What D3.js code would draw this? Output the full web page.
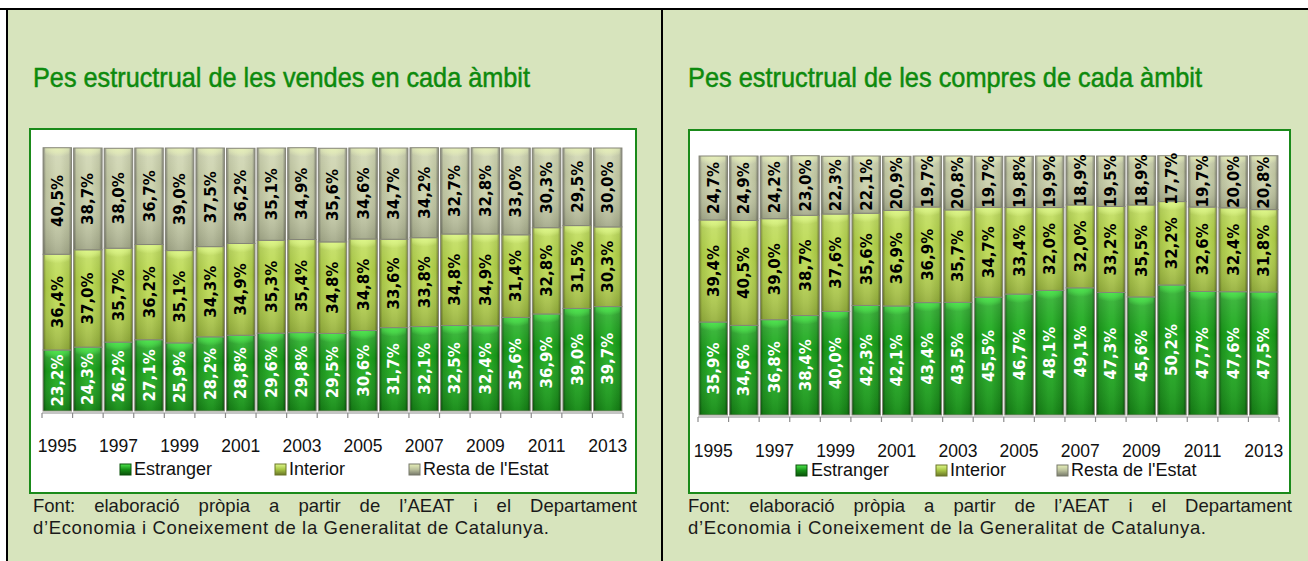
<!DOCTYPE html>
<html><head><meta charset="utf-8">
<script src="https://cdn.jsdelivr.net/npm/d3@7"></script>
<style>
html,body{margin:0;padding:0;background:#fff;}
svg{display:block;}
</style></head><body>
<svg id="c" width="1308" height="561"></svg>
<script>
// ---------- DATA ----------
const years = [1995,1996,1997,1998,1999,2000,2001,2002,2003,2004,2005,2006,2007,2008,2009,2010,2011,2012,2013];
const seriesNames = ["Estranger","Interior","Resta de l'Estat"];
const seriesKeys = ["estranger","interior","resta"];

const vendesEstranger = [23.2,24.3,26.2,27.1,25.9,28.2,28.8,29.6,29.8,29.5,30.6,31.7,32.1,32.5,32.4,35.6,36.9,39.0,39.7];
const vendesInterior  = [36.4,37.0,35.7,36.2,35.1,34.3,34.9,35.3,35.4,34.8,34.8,33.6,33.8,34.8,34.9,31.4,32.8,31.5,30.3];
const vendesResta     = [40.5,38.7,38.0,36.7,39.0,37.5,36.2,35.1,34.9,35.6,34.6,34.7,34.2,32.7,32.8,33.0,30.3,29.5,30.0];

const compresEstranger = [35.9,34.6,36.8,38.4,40.0,42.3,42.1,43.4,43.5,45.5,46.7,48.1,49.1,47.3,45.6,50.2,47.7,47.6,47.5];
const compresInterior  = [39.4,40.5,39.0,38.7,37.6,35.6,36.9,36.9,35.7,34.7,33.4,32.0,32.0,33.2,35.5,32.2,32.6,32.4,31.8];
const compresResta     = [24.7,24.9,24.2,23.0,22.3,22.1,20.9,19.7,20.8,19.7,19.8,19.9,18.9,19.5,18.9,17.7,19.7,20.0,20.8];

const titleVendes = "Pes estructrual de les vendes en cada àmbit";
const titleCompres = "Pes estructrual de les compres de cada àmbit";
const sourceLine1 = "Font: elaboració pròpia a partir de l’AEAT i el Departament";
const sourceLine2 = "d’Economia i Coneixement de la Generalitat de Catalunya.";
const yearTickLabels = years.map((y,i)=> i%2===0 ? String(y) : "");

// ---------- STYLE / LAYOUT ----------
const W = 1308, H = 561;
const svg = d3.select("#c");
const defs = svg.append("defs");
const locale = d3.formatLocale({decimal: ",", thousands: ".", grouping:[3], currency:["","€"]});
const fmt = v => locale.format(".1f")(v) + "%";

const pal = {
  estranger: {edge:"#0a520a", mid:"#179017", center:"#24ad24", hl:"#4fe64f", text:"#ffffff"},
  interior:  {edge:"#6a7628", mid:"#a6c443", center:"#bedb58", hl:"#def78a", text:"#000000"},
  resta:     {edge:"#77796a", mid:"#bac09c", center:"#ced4b0", hl:"#e6efb8", text:"#000000"}
};

seriesKeys.forEach(k => {
  const p = pal[k];
  const g = defs.append("linearGradient").attr("id","h-"+k).attr("x1",0).attr("x2",1).attr("y1",0).attr("y2",0);
  [[0,p.edge],[0.1,p.mid],[0.45,p.center],[0.6,p.center],[0.9,p.mid],[1,p.edge]].forEach(s=>
    g.append("stop").attr("offset",s[0]).attr("stop-color",s[1]));
  const r = defs.append("radialGradient").attr("id","hl-"+k).attr("cx",0.5).attr("cy",0).attr("r",0.75)
    .attr("fx",0.5).attr("fy",0);
  r.append("stop").attr("offset",0).attr("stop-color",p.hl).attr("stop-opacity",1);
  r.append("stop").attr("offset",0.55).attr("stop-color",p.hl).attr("stop-opacity",0.6);
  r.append("stop").attr("offset",1).attr("stop-color",p.hl).attr("stop-opacity",0);
  const lg = defs.append("linearGradient").attr("id","lg-"+k).attr("x1",0).attr("x2",0).attr("y1",0).attr("y2",1);
  lg.append("stop").attr("offset",0).attr("stop-color",p.hl);
  lg.append("stop").attr("offset",0.5).attr("stop-color",p.mid);
  lg.append("stop").attr("offset",1).attr("stop-color",p.edge);
});
const vs = defs.append("linearGradient").attr("id","vshade").attr("x1",0).attr("x2",0).attr("y1",0).attr("y2",1);
vs.append("stop").attr("offset",0).attr("stop-color","#fff").attr("stop-opacity",0.15);
vs.append("stop").attr("offset",0.35).attr("stop-color","#fff").attr("stop-opacity",0);
vs.append("stop").attr("offset",1).attr("stop-color","#000").attr("stop-opacity",0.18);

// page frame
svg.append("rect").attr("x",0).attr("y",0).attr("width",W).attr("height",H).attr("fill","#fff");
svg.append("rect").attr("x",7).attr("y",9).attr("width",W-7).attr("height",H-9).attr("fill","#d7e4bd");
svg.append("rect").attr("x",0).attr("y",8).attr("width",W).attr("height",2).attr("fill","#000");
svg.append("rect").attr("x",6).attr("y",8).attr("width",2).attr("height",H-8).attr("fill","#000");
svg.append("rect").attr("x",661).attr("y",8).attr("width",2).attr("height",H-8).attr("fill","#000");

const panels = [
  {title:titleVendes, data:[vendesEstranger,vendesInterior,vendesResta], titleX:33, titleLen:497,
   box:[30,129,606,364], plot:[42,148,623,411], yearY:452, legendY:475,
   markerX:[120,275,409], textX:[134,289,423], srcX0:33, srcX1:637, src2Len:516},
  {title:titleCompres, data:[compresEstranger,compresInterior,compresResta], titleX:688, titleLen:514,
   box:[689,130,601,363], plot:[698,156,1279,415], yearY:457, legendY:476,
   markerX:[796,936,1057], textX:[811,950,1071], srcX0:688, srcX1:1292, src2Len:518}
];

const SANS = "'Liberation Sans',Arial,sans-serif";

panels.forEach(P => {
  const g = svg.append("g");
  // title
  g.append("text").attr("x",P.titleX).attr("y",87).text(P.title)
    .attr("font-family","'Liberation Sans Narrow','Liberation Sans',Arial,sans-serif")
    .attr("font-size",28).attr("fill","#0d8a0d").attr("stroke","#0d8a0d").attr("stroke-width",0.5)
    .attr("textLength",P.titleLen).attr("lengthAdjust","spacingAndGlyphs");
  // box
  g.append("rect").attr("x",P.box[0]).attr("y",P.box[1]).attr("width",P.box[2]).attr("height",P.box[3])
    .attr("fill","#fff").attr("stroke","#1a8a1a").attr("stroke-width",2);

  const rows = years.map((y,i)=>({year:y, estranger:P.data[0][i], interior:P.data[1][i], resta:P.data[2][i]}));
  const stack = d3.stack().keys(seriesKeys)(rows);

  const x = d3.scaleBand().domain(years).range([P.plot[0],P.plot[2]]).paddingInner(0.07).paddingOuter(0.035);
  const y = d3.scaleLinear().domain([0,100]).range([P.plot[3],P.plot[1]]);
  const bw = x.bandwidth();

  stack.forEach(layer => {
    const k = layer.key;
    const lg = g.append("g");
    layer.forEach(d => {
      const x0 = x(d.data.year), y0 = y(d[1]), h = y(d[0]) - y(d[1]);
      lg.append("rect").attr("x",x0).attr("y",y0).attr("width",bw).attr("height",h)
        .attr("fill","url(#h-"+k+")");
      lg.append("rect").attr("x",x0).attr("y",y0).attr("width",bw).attr("height",h)
        .attr("fill","url(#vshade)");
      lg.append("rect").attr("x",x0+2).attr("y",y0).attr("width",bw-4).attr("height",Math.min(12,h))
        .attr("fill","url(#hl-"+k+")");
      lg.append("rect").attr("x",x0).attr("y",y0).attr("width",bw).attr("height",h)
        .attr("fill","none").attr("stroke","#858578").attr("stroke-width",1);
    });
  });
  // labels
  stack.forEach(layer => {
    const k = layer.key;
    layer.forEach(d => {
      const cx = x(d.data.year) + bw/2, cy = (y(d[0]) + y(d[1]))/2;
      g.append("text").attr("transform",`translate(${cx+0.5},${cy}) rotate(-90)`)
        .attr("text-anchor","middle").attr("dominant-baseline","central")
        .attr("font-family","'DejaVu Sans',Verdana,sans-serif").attr("font-weight","bold")
        .attr("font-size",15).attr("fill",pal[k].text)
        .text(fmt(d[1]-d[0]));
    });
  });

  // axis
  const axisY = P.plot[3] + 2;
  const step = x.step();
  g.append("line").attr("x1",P.plot[0]).attr("x2",P.plot[2]).attr("y1",axisY).attr("y2",axisY)
    .attr("stroke","#8c8c8c").attr("stroke-width",1.2);
  const bounds = years.map(yv => x(yv) - step*x.paddingInner()/2).concat([x(years[years.length-1]) + bw + step*x.paddingInner()/2]);
  bounds.forEach(bx => g.append("line").attr("x1",bx).attr("x2",bx).attr("y1",axisY).attr("y2",axisY+5)
    .attr("stroke","#8c8c8c").attr("stroke-width",1.2));
  const ax = g.append("g").attr("transform",`translate(0,${P.yearY-13})`)
    .call(d3.axisBottom(x).tickSize(0).tickPadding(0).tickFormat((d,i)=>yearTickLabels[i]));
  ax.select(".domain").remove();
  ax.selectAll("text").attr("font-family",SANS).attr("font-size",17.5)
    .attr("fill","#111").attr("dy",null).attr("y",13);

  // legend
  seriesNames.forEach((nm,i) => {
    g.append("rect").attr("x",P.markerX[i]).attr("y",P.legendY-11).attr("width",11).attr("height",11)
      .attr("fill","url(#lg-"+seriesKeys[i]+")").attr("stroke",pal[seriesKeys[i]].edge).attr("stroke-width",1);
    g.append("text").attr("x",P.textX[i]).attr("y",P.legendY).text(nm)
      .attr("font-family",SANS).attr("font-size",18).attr("fill","#111");
  });

  // source (justified first line)
  const words = sourceLine1.split(" ");
  const ws = words.map(w => g.append("text").attr("y",512).text(w)
     .attr("font-family",SANS).attr("font-size",18.5).attr("fill","#1a1a1a"));
  const widths = ws.map(t => t.node().getComputedTextLength());
  const gap = (P.srcX1 - P.srcX0 - d3.sum(widths)) / (words.length-1);
  let cx = P.srcX0;
  ws.forEach((t,i)=>{ t.attr("x",cx); cx += widths[i] + gap; });
  g.append("text").attr("x",P.srcX0).attr("y",534).text(sourceLine2)
    .attr("font-family",SANS).attr("font-size",18.5).attr("fill","#1a1a1a")
    .attr("textLength",P.src2Len).attr("lengthAdjust","spacing");
});
</script>
</body></html>
